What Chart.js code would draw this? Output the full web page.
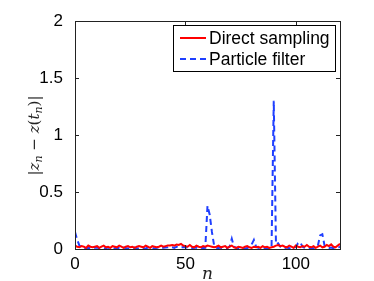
<!DOCTYPE html>
<html>
<head>
<meta charset="utf-8">
<script src="https://cdn.jsdelivr.net/npm/chart.js@4/dist/chart.umd.min.js"></script>
<style>
  html, body { margin: 0; padding: 0; background: #fff; }
  #wrap { width: 374px; height: 281px; }
</style>
</head>
<body>
<div id="wrap"><canvas id="c" width="374" height="281"></canvas></div>
<script>
// error per step, n = 0..120
const nValues = Array.from({ length: 121 }, (_, i) => i);

const directSampling = [
  0.03, 0.02, 0.015, 0.025, 0.02, 0.01, 0.03, 0.02, 0.015, 0.02,
  0.025, 0.01, 0.02, 0.03, 0.015, 0.02, 0.01, 0.025, 0.02, 0.015,
  0.03, 0.02, 0.01, 0.02, 0.025, 0.015, 0.02, 0.01, 0.02, 0.025,
  0.02, 0.015, 0.03, 0.02, 0.01, 0.025, 0.02, 0.015, 0.02, 0.03,
  0.02, 0.025, 0.03, 0.03, 0.035, 0.03, 0.04, 0.035, 0.045, 0.03,
  0.025, 0.02, 0.035, 0.02, 0.015, 0.03, 0.02, 0.015, 0.025, 0.02,
  0.03, 0.025, 0.02, 0.015, 0.02, 0.03, 0.015, 0.02, 0.025, 0.01,
  0.02, 0.03, 0.015, 0.01, 0.02, 0.015, 0.01, 0.02, 0.025, 0.015,
  0.01, 0.02, 0.015, 0.02, 0.01, 0.025, 0.015, 0.02, 0.01, 0.015,
  0.02, 0.03, 0.035, 0.025, 0.03, 0.02, 0.015, 0.03, 0.02, 0.01,
  0.03, 0.02, 0.015, 0.025, 0.02, 0.035, 0.02, 0.015, 0.025, 0.01,
  0.02, 0.03, 0.015, 0.02, 0.035, 0.025, 0.04, 0.02, 0.015, 0.03, 0.045
];

const particleFilter = [
  0.15, 0.08, 0.03, 0.015, 0.01, 0.005, 0.01, 0.008, 0.005, 0.01,
  0.012, 0.006, 0.01, 0.005, 0.008, 0.012, 0.005, 0.01, 0.006, 0.008,
  0.01, 0.005, 0.012, 0.008, 0.005, 0.01, 0.006, 0.012, 0.005, 0.008,
  0.01, 0.006, 0.005, 0.012, 0.008, 0.01, 0.005, 0.01, 0.015, 0.008,
  0.01, 0.012, 0.015, 0.02, 0.015, 0.01, 0.02, 0.015, 0.012, 0.018,
  0.015, 0.01, 0.012, 0.008, 0.01, 0.012, 0.006, 0.01, 0.008, 0.01,
  0.38, 0.3, 0.15, 0.03, 0.01, 0.008, 0.012, 0.006, 0.01, 0.008,
  0.02, 0.09, 0.02, 0.01, 0.006, 0.008, 0.01, 0.005, 0.008, 0.02,
  0.04, 0.08, 0.02, 0.01, 0.008, 0.005, 0.01, 0.006, 0.008, 0.01,
  1.3, 0.04, 0.05, 0.02, 0.01, 0.008, 0.012, 0.006, 0.01, 0.008,
  0.02, 0.05, 0.06, 0.02, 0.01, 0.008, 0.005, 0.01, 0.006, 0.01,
  0.03, 0.12, 0.13, 0.03, 0.01, 0.008, 0.012, 0.006, 0.01, 0.01, 0.02
];

const xTicks = [0, 50, 100];
const yTicks = [0, 0.5, 1, 1.5, 2];
const yTickLabels = ['0', '0.5', '1', '1.5', '2'];

const tickFont = { family: '"Liberation Sans", Arial, sans-serif', size: 17 };

// box round the plot with inward tick marks on all sides
const framePlugin = {
  id: 'frame',
  afterDatasetsDraw(chart) {
    const { ctx, chartArea: a, scales } = chart;
    ctx.save();
    ctx.strokeStyle = '#222';
    ctx.lineWidth = 1;
    ctx.strokeRect(Math.round(a.left) + 0.5, Math.round(a.top) + 0.5,
      Math.round(a.right - a.left), Math.round(a.bottom - a.top));
    const len = 4;
    ctx.beginPath();
    xTicks.forEach(v => {
      const px = Math.round(scales.x.getPixelForValue(v)) + 0.5;
      ctx.moveTo(px, a.bottom); ctx.lineTo(px, a.bottom - len);
      ctx.moveTo(px, a.top); ctx.lineTo(px, a.top + len);
    });
    yTicks.forEach(v => {
      const py = Math.round(scales.y.getPixelForValue(v)) + 0.5;
      ctx.moveTo(a.left, py); ctx.lineTo(a.left + len, py);
      ctx.moveTo(a.right, py); ctx.lineTo(a.right - len, py);
    });
    ctx.stroke();
    ctx.restore();
  }
};

// boxed legend in the top right corner
const legendBoxPlugin = {
  id: 'legendBox',
  afterDraw(chart) {
    const { ctx, chartArea: a } = chart;
    const x0 = 173, y0 = 25, w = a.right - 5 - x0, h = 46;
    ctx.save();
    ctx.fillStyle = '#fff';
    ctx.fillRect(x0, y0, w, h);
    ctx.strokeStyle = '#000';
    ctx.lineWidth = 1;
    ctx.strokeRect(x0 + 0.5, y0 + 0.5, w, h);
    ctx.font = '17.5px "Liberation Sans", Arial, sans-serif';
    ctx.textBaseline = 'middle';
    chart.data.datasets.forEach((ds, i) => {
      const yy = y0 + 13 + i * 21;
      ctx.strokeStyle = ds.borderColor;
      ctx.lineWidth = ds.borderWidth;
      ctx.setLineDash(ds.borderDash || []);
      ctx.beginPath();
      ctx.moveTo(x0 + 7, yy);
      ctx.lineTo(x0 + 33, yy);
      ctx.stroke();
      ctx.setLineDash([]);
      ctx.fillStyle = '#000';
      ctx.fillText(ds.label, x0 + 36, yy + 1);
    });
    ctx.restore();
  }
};

// math style axis titles
const titlesPlugin = {
  id: 'titles',
  afterDraw(chart) {
    const { ctx, chartArea: a } = chart;
    ctx.save();
    ctx.fillStyle = '#222';
    ctx.font = 'italic 17px "DejaVu Serif", "Liberation Serif", serif';
    ctx.textAlign = 'center';
    ctx.textBaseline = 'alphabetic';
    ctx.fillText('n', (a.left + a.right) / 2, 279);

    // y title: |z_n − z(t_n)|
    const parts = [
      { t: '|', f: '15px "DejaVu Serif", serif', dy: 0 },
      { t: 'z', f: 'italic 15px "DejaVu Serif", serif', dy: 0 },
      { t: 'n', f: 'italic 11px "DejaVu Serif", serif', dy: 3 },
      { t: ' \u2212 ', f: '15px "DejaVu Serif", serif', dy: 0 },
      { t: 'z', f: 'italic 15px "DejaVu Serif", serif', dy: 0 },
      { t: '(', f: '15px "DejaVu Serif", serif', dy: 0 },
      { t: 't', f: 'italic 15px "DejaVu Serif", serif', dy: 0 },
      { t: 'n', f: 'italic 11px "DejaVu Serif", serif', dy: 3 },
      { t: ')|', f: '15px "DejaVu Serif", serif', dy: 0 }
    ];
    let total = 0;
    parts.forEach(p => { ctx.font = p.f; p.w = ctx.measureText(p.t).width; total += p.w; });
    ctx.translate(39, 135.5);
    ctx.rotate(-Math.PI / 2);
    ctx.textAlign = 'left';
    let x = -total / 2;
    parts.forEach(p => {
      ctx.font = p.f;
      ctx.fillText(p.t, x, p.dy);
      x += p.w;
    });
    ctx.restore();
  }
};

new Chart(document.getElementById('c'), {
  type: 'line',
  data: {
    datasets: [
      {
        label: 'Direct sampling',
        data: nValues.map((n, i) => ({ x: n, y: directSampling[i] })),
        borderColor: '#ff0000',
        borderWidth: 2,
        pointRadius: 0,
        tension: 0
      },
      {
        label: 'Particle filter',
        data: nValues.map((n, i) => ({ x: n, y: particleFilter[i] })),
        borderColor: '#1f3fff',
        borderWidth: 2,
        borderDash: [6, 4],
        pointRadius: 0,
        tension: 0
      }
    ]
  },
  options: {
    responsive: false,
    animation: false,
    layout: { padding: { left: 0, right: 34, top: 21, bottom: 0 } },
    plugins: { legend: { display: false }, tooltip: { enabled: false } },
    scales: {
      x: {
        type: 'linear',
        min: 0,
        max: 120,
        grid: { display: false },
        border: { display: false },
        afterBuildTicks: s => { s.ticks = xTicks.map(v => ({ value: v })); },
        afterFit: s => { s.height = 32; },
        ticks: { font: tickFont, color: '#000', padding: -3, maxRotation: 0 }
      },
      y: {
        min: 0,
        max: 2,
        grid: { display: false },
        border: { display: false },
        afterBuildTicks: s => { s.ticks = yTicks.map(v => ({ value: v })); },
        afterFit: s => { s.width = 75; },
        ticks: {
          font: tickFont,
          color: '#000',
          padding: 4,
          callback: (v) => yTickLabels[yTicks.indexOf(v)]
        }
      }
    }
  },
  plugins: [framePlugin, legendBoxPlugin, titlesPlugin]
});
</script>
</body>
</html>
